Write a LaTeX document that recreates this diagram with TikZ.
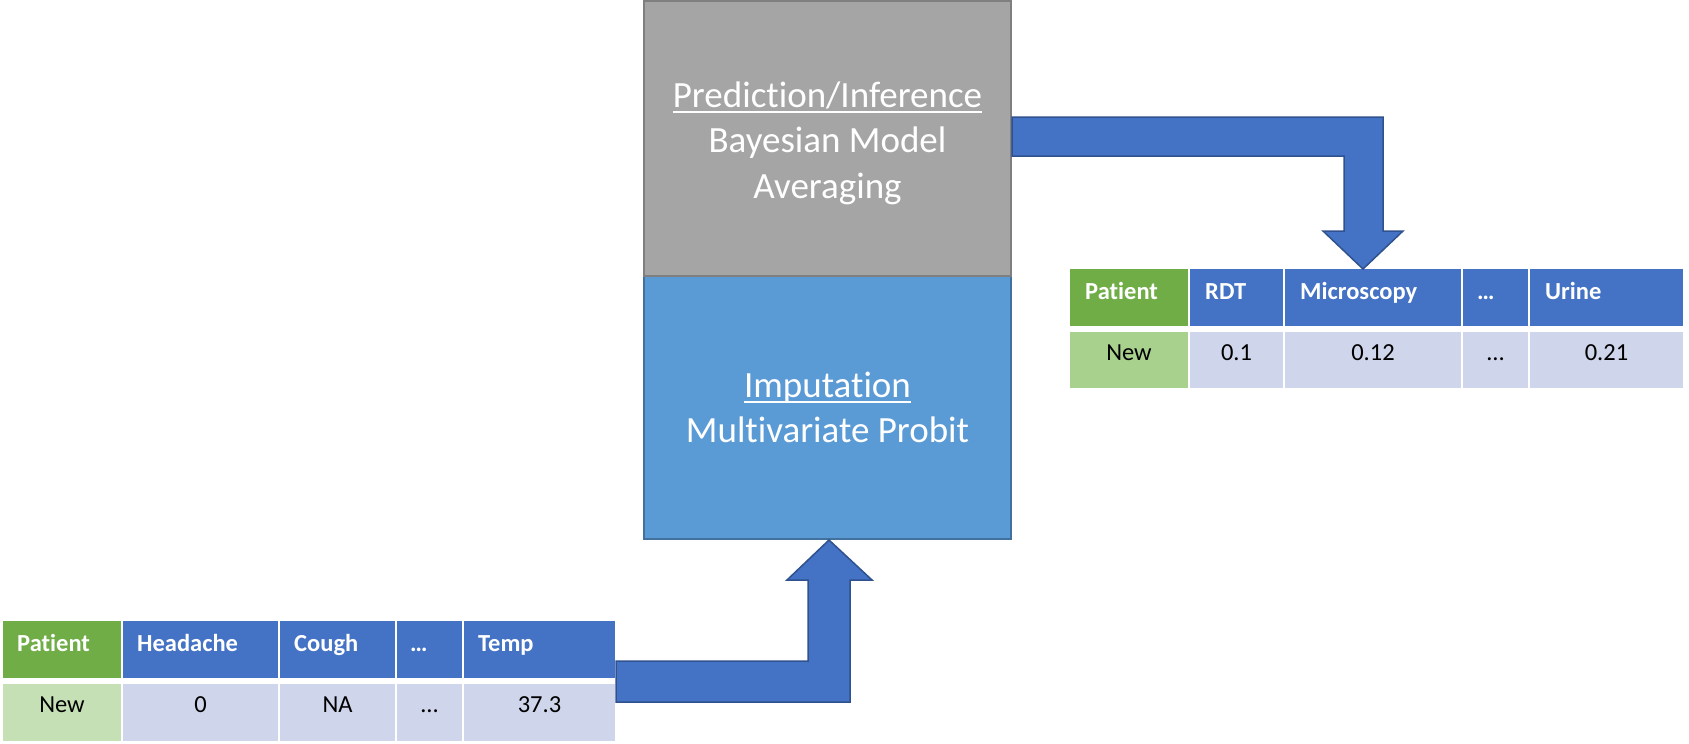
\documentclass[tikz,border=0pt]{standalone}
\usepackage{fontspec}
\setmainfont{Carlito}[Ligatures={NoCommon,NoRare,NoContextual}]
\usetikzlibrary{calc}
\definecolor{boxgray}{HTML}{A5A5A5}
\definecolor{boxgrayline}{HTML}{7F7F7F}
\definecolor{impblue}{HTML}{5B9BD5}
\definecolor{impline}{HTML}{41719C}
\definecolor{arrfill}{HTML}{4472C4}
\definecolor{arrline}{HTML}{2F528F}
\definecolor{hdrgreen}{HTML}{70AD47}
\definecolor{hdrblue}{HTML}{4472C4}
\definecolor{newlight}{HTML}{C5E0B4}
\definecolor{newmid}{HTML}{A9D18E}
\definecolor{datcell}{HTML}{CFD5EA}
\newcommand\myul[1]{{\setbox0\hbox{#1}\rlap{\rule[-6pt]{\wd0}{2pt}}\box0}}
\newcommand\tcell[6]{\node[cellbox,fill=#6,minimum width=#4-#2,minimum height=#5-#3] (#1) at ({(#2+#4)/2},{(#3+#5)/2}) {};}
\tikzset{
  cellbox/.style={draw=none,inner sep=0,outer sep=0,shape=rectangle},
  hdr/.style={font=\fontsize{24.5}{28}\selectfont\bfseries,text=white,anchor=base west,inner sep=0},
  dat/.style={font=\fontsize{24.5}{28}\selectfont,text=black,anchor=base,inner sep=0},
  bigbox/.style={shape=rectangle,inner sep=0,line width=2pt,minimum width=367,align=center,text=white,font=\fontsize{37}{45.5}\selectfont},
  bigarrow/.style={fill=arrfill,draw=arrline,line width=1.5pt,line join=miter}
}
\begin{document}
\begin{tikzpicture}[x=1pt,y=-1pt]
\useasboundingbox (0,0) rectangle (1689,744);
% central boxes
\node[bigbox,fill=impblue,draw=impline,minimum height=263] (imp) at (827.5,407.5) {\myul{Imputation}\\Multivariate Probit};
\node[bigbox,fill=boxgray,draw=boxgrayline,minimum height=275] (pred) at (827.5,138.5) {\rule{0pt}{35pt}\myul{Prediction/Inference}\\Bayesian Model\\Averaging};
% left table
\tcell{lp}{3}{621}{121}{678}{hdrgreen}
\tcell{lh}{123}{621}{278}{678}{hdrblue}
\tcell{lc}{280}{621}{395}{678}{hdrblue}
\tcell{ld}{397}{621}{462}{678}{hdrblue}
\tcell{lt}{464}{621}{615}{678}{hdrblue}
\tcell{lp2}{3}{684}{121}{741}{newlight}
\tcell{lh2}{123}{684}{278}{741}{datcell}
\tcell{lc2}{280}{684}{395}{741}{datcell}
\tcell{ld2}{397}{684}{462}{741}{datcell}
\tcell{lt2}{464}{684}{615}{741}{datcell}
\node[hdr] (tlp) at ($(lp.north west)+(14,30)$) {Patient};
\node[hdr] (tlh) at ($(lh.north west)+(14,30)$) {Headache};
\node[hdr] (tlc) at ($(lc.north west)+(14,30)$) {Cough};
\node[hdr] (tld) at ($(ld.north west)+(13,30)$) {…};
\node[hdr] (tlt) at ($(lt.north west)+(14,30)$) {Temp};
\node[dat] (tlp2) at ($(lp2.north)+(0,28)$) {New};
\node[dat] (tlh2) at ($(lh2.north)+(0,28)$) {0};
\node[dat] (tlc2) at ($(lc2.north)+(0,28)$) {NA};
\node[dat] (tld2) at ($(ld2.north)+(0,28)$) {…};
\node[dat] (tlt2) at ($(lt2.north)+(0,28)$) {37.3};
% right table
\tcell{rp}{1070}{269}{1188}{326}{hdrgreen}
\tcell{rr}{1190}{269}{1283}{326}{hdrblue}
\tcell{rm}{1285}{269}{1461}{326}{hdrblue}
\tcell{rd}{1463}{269}{1528}{326}{hdrblue}
\tcell{ru}{1530}{269}{1683}{326}{hdrblue}
\tcell{rp2}{1070}{332}{1188}{388}{newmid}
\tcell{rr2}{1190}{332}{1283}{388}{datcell}
\tcell{rm2}{1285}{332}{1461}{388}{datcell}
\tcell{rd2}{1463}{332}{1528}{388}{datcell}
\tcell{ru2}{1530}{332}{1683}{388}{datcell}
\node[hdr] (trp) at ($(rp.north west)+(15,30)$) {Patient};
\node[hdr] (trr) at ($(rr.north west)+(15,30)$) {RDT};
\node[hdr] (trm) at ($(rm.north west)+(15,30)$) {Microscopy};
\node[hdr] (trd) at ($(rd.north west)+(14,30)$) {…};
\node[hdr] (tru) at ($(ru.north west)+(15,30)$) {Urine};
\node[dat] (trp2) at ($(rp2.north)+(0,28)$) {New};
\node[dat] (trr2) at ($(rr2.north)+(0,28)$) {0.1};
\node[dat] (trm2) at ($(rm2.north)+(0,28)$) {0.12};
\node[dat] (trd2) at ($(rd2.north)+(0,28)$) {…};
\node[dat] (tru2) at ($(ru2.north)+(0,28)$) {0.21};
% arrows
\coordinate (botstart) at (616,661);
\coordinate (toptip) at (1363,269);
\draw[bigarrow] (botstart) -- (808,661) -- (808,580) -- (787,580) -- (829,540) -- (872,580) -- (850,580) -- (850,702) -- (616,702) -- cycle;
\draw[bigarrow] (1012,117) -- (1383,117) -- (1383,231) -- (1403,231) -- (toptip) -- (1323,231) -- (1344,231) -- (1344,156) -- (1012,156) -- cycle;
\end{tikzpicture}
\end{document}
